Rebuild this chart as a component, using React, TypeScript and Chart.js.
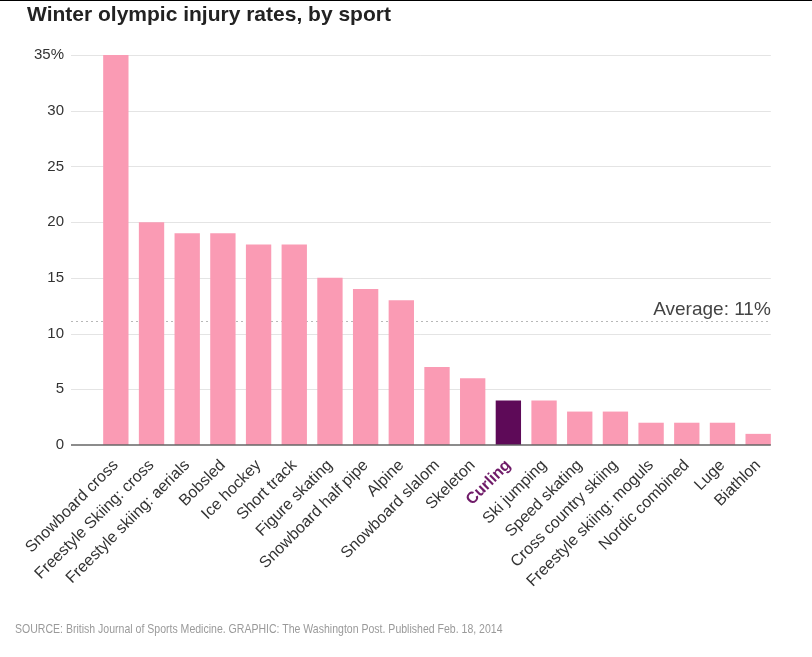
import React, { useEffect, useRef } from "react";
import { Chart, registerables } from "chart.js";

Chart.register(...registerables);

const categories = [
  "Snowboard cross",
  "Freestyle Skiing: cross",
  "Freestyle skiing: aerials",
  "Bobsled",
  "Ice hockey",
  "Short track",
  "Figure skating",
  "Snowboard half pipe",
  "Alpine",
  "Snowboard slalom",
  "Skeleton",
  "Curling",
  "Ski jumping",
  "Speed skating",
  "Cross country skiing",
  "Freestyle skiing: moguls",
  "Nordic combined",
  "Luge",
  "Biathlon",
];
const injuryRates = [35, 20, 19, 19, 18, 18, 15, 14, 13, 7, 6, 4, 4, 3, 3, 2, 2, 2, 1];
const yTicks = [0, 5, 10, 15, 20, 25, 30, 35];
const averageRate = 11;
const highlighted = "Curling";

const PINK = "#fa9bb4";
const PURPLE = "#5e0a58";
const PURPLE_TEXT = "#6f1a68";
const FONT = "Arial, 'Liberation Sans', sans-serif";

export default function App() {
  const ref = useRef<HTMLCanvasElement | null>(null);

  useEffect(() => {
    if (!ref.current) return;
    const hiIndex = categories.indexOf(highlighted);

    const overlay = {
      id: "overlay",
      beforeDatasetsDraw(chart: any) {
        const { ctx, chartArea } = chart;
        const y = chart.scales.y;
        const x = chart.scales.x;
        const meta = chart.getDatasetMeta(0);
        const last: any = meta.data[meta.data.length - 1];
        const right = x.getPixelForValue(categories.length - 1) + last.width / 2;
        const left = chartArea.left - 27;
        ctx.save();
        ctx.strokeStyle = "#e4e4e4";
        ctx.lineWidth = 1;
        yTicks.forEach((t) => {
          if (t === 0) return;
          const py = Math.round(y.getPixelForValue(t)) + 0.5;
          ctx.beginPath();
          ctx.moveTo(left, py);
          ctx.lineTo(right, py);
          ctx.stroke();
        });
        const ay = Math.round(y.getPixelForValue(averageRate)) - 0.5;
        ctx.strokeStyle = "#b8b8b8";
        ctx.setLineDash([2, 3]);
        ctx.beginPath();
        ctx.moveTo(left, ay);
        ctx.lineTo(right, ay);
        ctx.stroke();
        ctx.setLineDash([]);
        ctx.fillStyle = "#444";
        ctx.font = `19px ${FONT}`;
        ctx.textAlign = "right";
        ctx.textBaseline = "alphabetic";
        ctx.fillText(`Average: ${averageRate}%`, right, ay - 7);
        ctx.restore();
      },
      afterDatasetsDraw(chart: any) {
        const { ctx, chartArea } = chart;
        const y = chart.scales.y;
        const x = chart.scales.x;
        const meta = chart.getDatasetMeta(0);
        const last: any = meta.data[meta.data.length - 1];
        const right = x.getPixelForValue(categories.length - 1) + last.width / 2;
        const left = chartArea.left - 27;
        const py = y.getPixelForValue(0);
        ctx.save();
        ctx.strokeStyle = "#666";
        ctx.lineWidth = 1.5;
        ctx.beginPath();
        ctx.moveTo(left, py);
        ctx.lineTo(right, py);
        ctx.stroke();
        ctx.restore();
      },
    };

    const chart = new Chart(ref.current, {
      type: "bar",
      data: {
        labels: categories,
        datasets: [
          {
            data: injuryRates,
            backgroundColor: categories.map((_, i) => (i === hiIndex ? PURPLE : PINK)),
            borderWidth: 0,
            categoryPercentage: 1,
            barPercentage: 0.71,
          },
        ],
      },
      options: {
        animation: false,
        responsive: false,
        maintainAspectRatio: false,
        layout: { padding: { top: 55, left: 0, right: 36, bottom: 0 } },
        plugins: {
          legend: { display: false },
          title: { display: false },
          tooltip: { enabled: false },
        },
        scales: {
          x: {
            grid: { display: false },
            border: { display: false },
            ticks: {
              autoSkip: false,
              maxRotation: 45,
              minRotation: 45,
              padding: 3,
              color: (c: any) => (c.index === hiIndex ? PURPLE_TEXT : "#333"),
              font: (c: any) => ({
                family: FONT,
                size: 16,
                weight: c.index === hiIndex ? "bold" : "normal",
              }),
            },
            afterFit: (s: any) => {
              s.height = 212;
            },
          },
          y: {
            min: 0,
            max: 35,
            afterBuildTicks: (s: any) => {
              s.ticks = yTicks.map((v) => ({ value: v }));
            },
            grid: { display: false },
            border: { display: false },
            ticks: {
              padding: 26,
              color: "#333",
              font: { family: FONT, size: 15 },
              callback: (v: any) => (v === 35 ? `${v}%` : `${v}`),
            },
            afterFit: (s: any) => {
              s.width = 98;
            },
          },
        },
      },
      plugins: [overlay],
    });
    return () => chart.destroy();
  }, []);

  return (
    <div
      style={{
        position: "fixed",
        left: 0,
        top: 0,
        width: 812,
        height: 657,
        background: "#fff",
        overflow: "hidden",
      }}
    >
      <div style={{ position: "absolute", left: 0, top: 0, width: 812, height: 1, background: "#000" }} />
      <canvas ref={ref} width={812} height={657} style={{ position: "absolute", left: 0, top: 0 }} />
      <div
        style={{
          position: "absolute",
          left: 27,
          top: 2,
          fontFamily: FONT,
          fontWeight: "bold",
          fontSize: 21,
          color: "#222",
          whiteSpace: "nowrap",
        }}
      >
        Winter olympic injury rates, by sport
      </div>
      <div
        style={{
          position: "absolute",
          left: 15,
          top: 621,
          fontFamily: FONT,
          fontSize: 13,
          color: "#9a9a9a",
          whiteSpace: "nowrap",
          transform: "scaleX(0.81)",
          transformOrigin: "left center",
        }}
      >
        SOURCE: British Journal of Sports Medicine. GRAPHIC: The Washington Post. Published Feb. 18, 2014
      </div>
    </div>
  );
}
